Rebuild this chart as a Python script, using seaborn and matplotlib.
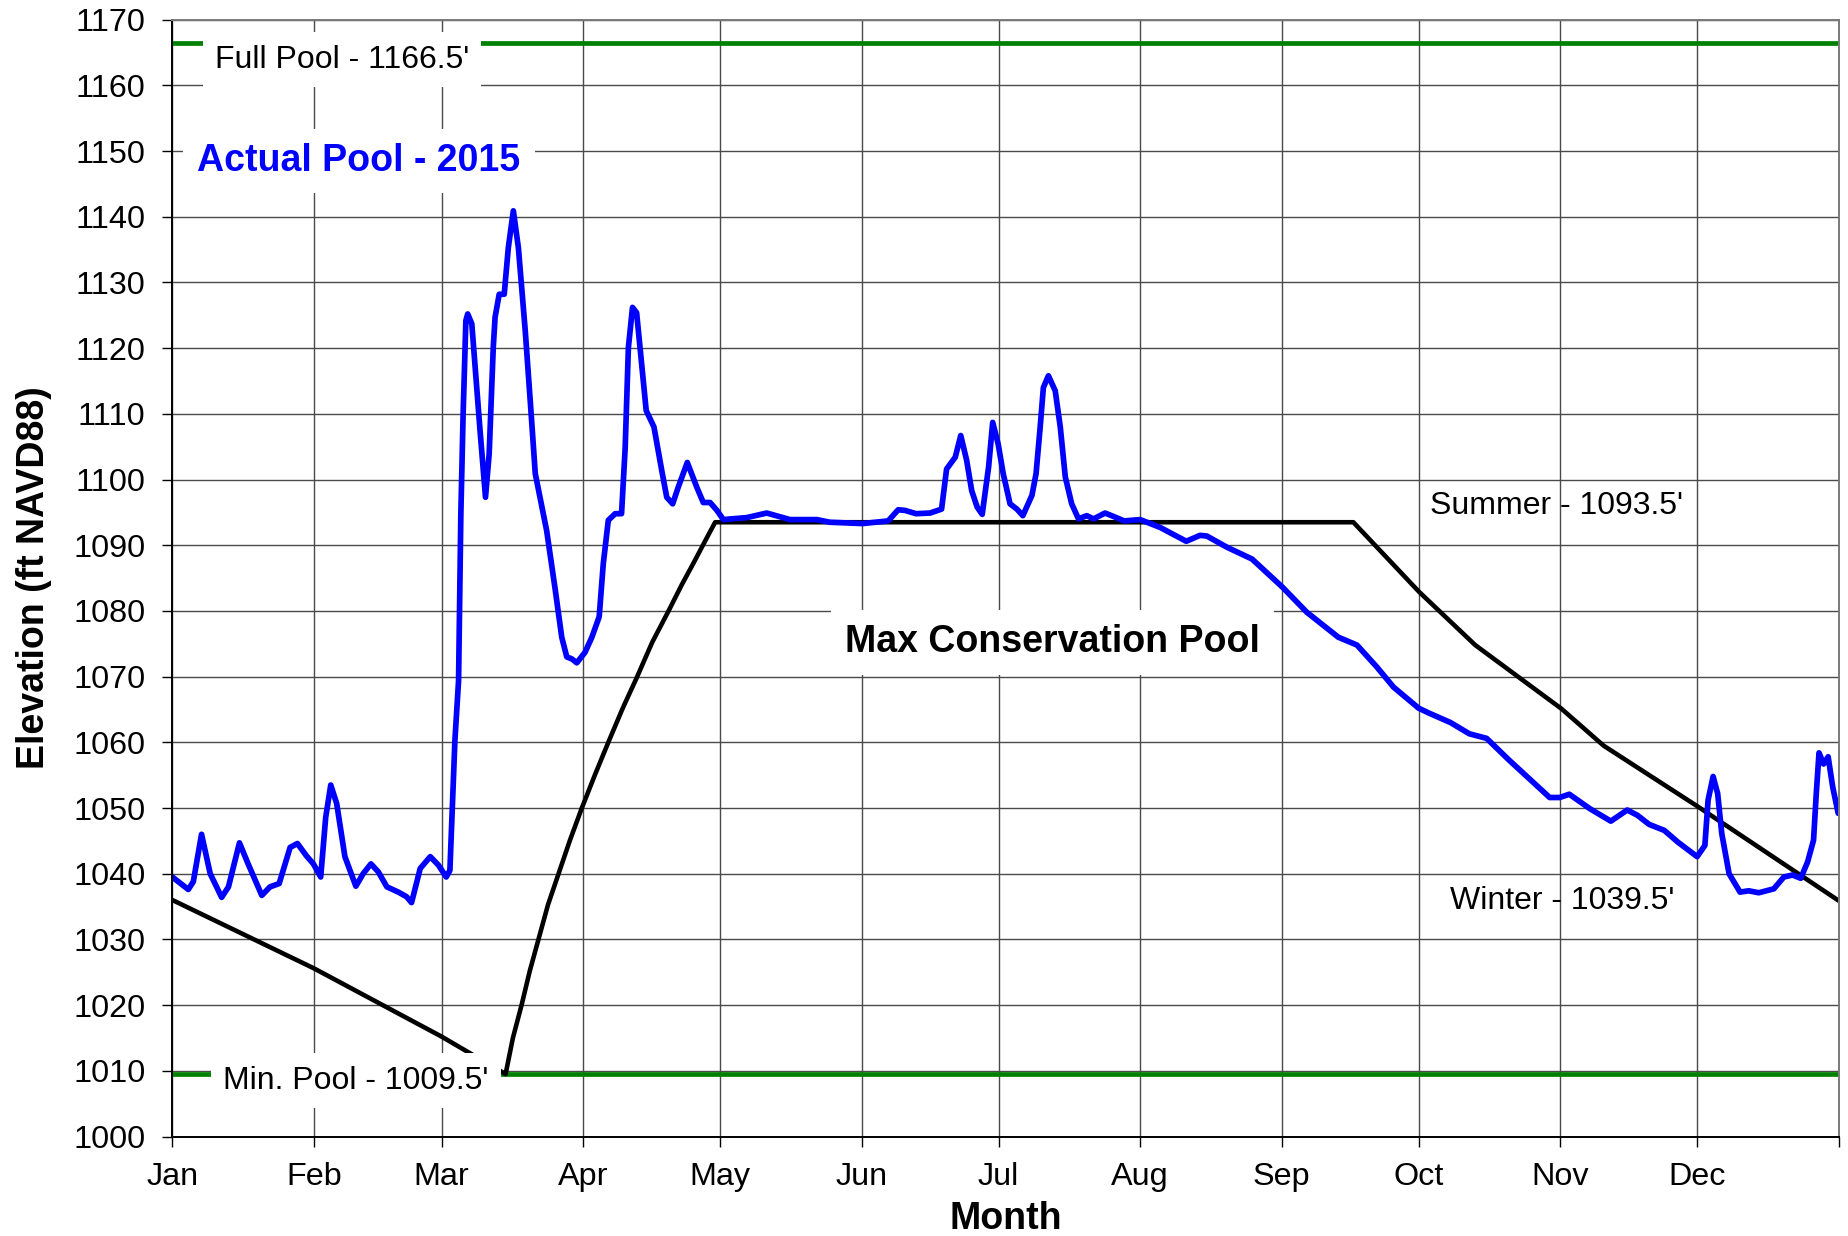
#!/usr/bin/env python3
#===============================================================================
# plot 2015 reservoir pool elevation against the rule curve
#===============================================================================

# Imports ======================================================================

import matplotlib
matplotlib.use('Agg')
import matplotlib.pyplot as plt
import pandas as pd
import seaborn as sns




# Data =========================================================================

month_labels = ['Jan', 'Feb', 'Mar', 'Apr', 'May', 'Jun',
                'Jul', 'Aug', 'Sep', 'Oct', 'Nov', 'Dec']
month_starts = [0, 31, 59, 90, 120, 151, 181, 212, 243, 273, 304, 334]

full_pool = 1166.5
min_pool = 1009.5

# actual pool elevation (day of year, ft)
actual_day = [
    0, 3.5, 4.6, 6.4, 8.3, 10.8, 12.3, 14.7, 16.6, 19.6, 21.4, 23.4, 25.8,
    27.4, 29.4, 30.9, 32.5, 33.6, 34.7, 36.0, 37.8, 40.2, 41.8, 43.5, 45.1,
    47.0, 49.5, 51.3, 52.4, 54.3, 56.5, 58.3, 60.0, 60.8, 61.9, 62.7, 63.2,
    63.7, 64.3, 64.7, 65.6, 67.4, 68.6, 69.4, 70.3, 70.7, 71.6, 72.7, 73.6,
    74.7, 75.8, 77.3, 78.6, 79.5, 82.0, 83.8, 85.3, 86.4, 87.5, 88.6, 90.4,
    91.9, 93.5, 94.4, 95.5, 97.0, 98.4, 99.2, 99.9, 100.8, 101.7, 102.8,
    103.8, 105.5, 107.2, 108.3, 109.6, 110.8, 112.8, 114.9, 116.3, 117.8,
    119.3, 120.7, 122.2, 125.8, 130.2, 135.3, 141.2, 144.0, 151.2, 156.8,
    159.0, 160.5, 162.9, 166.0, 168.5, 169.6, 171.5, 172.7, 174.0, 175.1,
    176.3, 177.4, 178.8, 179.7, 180.9, 182.0, 183.5, 185.0, 186.3, 188.3,
    189.2, 190.1, 190.8, 191.9, 193.4, 194.5, 195.6, 197.0, 198.5, 200.3,
    201.8, 204.3, 206.1, 208.5, 212.0, 216.4, 222.1, 225.1, 226.6, 231.0,
    236.5, 243.2, 248.5, 255.4, 259.5, 263.8, 267.5, 273.0, 275.1, 280.0,
    284.1, 287.9, 292.8, 301.7, 303.9, 306.0, 310.5, 315.1, 318.7, 320.9,
    323.5, 326.8, 329.8, 334.0, 335.7, 336.4, 337.5, 338.5, 339.4, 341.0,
    343.4, 345.3, 347.5, 350.8, 353.0, 354.9, 356.7, 358.2, 359.5, 360.1,
    360.7, 361.7, 362.7, 363.7, 364.9,
]
actual_elev = [
    1039.5, 1037.6, 1038.8, 1046.0, 1040.0, 1036.4, 1038.0, 1044.7, 1041.5,
    1036.7, 1038.0, 1038.5, 1044.0, 1044.6, 1042.7, 1041.5, 1039.5, 1048.6,
    1053.5, 1050.7, 1042.6, 1038.1, 1040.0, 1041.5, 1040.3, 1038.0, 1037.2,
    1036.5, 1035.6, 1040.8, 1042.6, 1041.3, 1039.5, 1040.5, 1060.3, 1069.4,
    1094.8, 1110.0, 1124.2, 1125.2, 1123.7, 1107.5, 1097.3, 1103.9, 1120.1,
    1124.7, 1128.2, 1128.2, 1135.3, 1140.9, 1135.3, 1122.7, 1110.0, 1100.9,
    1092.2, 1083.6, 1076.0, 1073.0, 1072.7, 1072.1, 1073.7, 1076.0, 1079.1,
    1087.2, 1093.8, 1094.8, 1094.8, 1104.9, 1120.1, 1126.2, 1125.4, 1117.6,
    1110.5, 1108.0, 1101.4, 1097.3, 1096.3, 1098.8, 1102.6, 1098.8, 1096.5,
    1096.5, 1095.3, 1093.9, 1094.0, 1094.2, 1094.9, 1093.9, 1093.9, 1093.5,
    1093.3, 1093.7, 1095.4, 1095.3, 1094.8, 1094.9, 1095.5, 1101.6, 1103.4,
    1106.7, 1102.9, 1098.3, 1095.8, 1094.7, 1101.9, 1108.7, 1105.4, 1100.9,
    1096.3, 1095.5, 1094.5, 1097.6, 1100.9, 1108.0, 1114.0, 1115.8, 1113.5,
    1108.0, 1100.4, 1096.3, 1094.0, 1094.5, 1094.0, 1094.9, 1094.4, 1093.7,
    1093.9, 1092.7, 1090.6, 1091.5, 1091.4, 1089.7, 1087.9, 1083.6, 1079.8,
    1076.0, 1074.8, 1071.5, 1068.4, 1065.2, 1064.5, 1063.0, 1061.3, 1060.6,
    1057.3, 1051.6, 1051.6, 1052.1, 1049.9, 1048.0, 1049.7, 1048.9, 1047.5,
    1046.6, 1044.8, 1042.6, 1044.3, 1051.2, 1054.8, 1052.2, 1046.1, 1040.0,
    1037.2, 1037.4, 1037.1, 1037.7, 1039.5, 1039.8, 1039.3, 1041.8, 1045.1,
    1052.2, 1058.4, 1056.7, 1057.8, 1053.2, 1049.2,
]

# max conservation pool (rule curve)
rule_day = [0, 31, 59, 73, 74.6, 76.5, 78.3, 80.2, 82.3, 84.6, 87.1, 89.7,
            92.6, 95.5, 98.6, 101.7, 105.1, 108.7, 111.6, 114.1, 116.6,
            118.9, 258.7, 273.1, 285.4, 304.3, 313.5, 334.2, 365]
rule_elev = [1036.0, 1025.6, 1015.2, 1009.5, 1015.0, 1020.0, 1025.2, 1030.0,
             1035.3, 1040.0, 1045.1, 1050.0, 1055.1, 1060.0, 1065.1, 1069.8,
             1075.2, 1080.0, 1084.0, 1087.2, 1090.5, 1093.5, 1093.5, 1082.9,
             1074.8, 1065.1, 1059.5, 1050.2, 1035.9]




# Functions ====================================================================

def label(ax, x, y, s, boxed=True, **kwargs):
    bbox = dict(boxstyle='square,pad=0.38', facecolor='white',
                edgecolor='none') if boxed else None
    ax.text(x, y, s, ha='center', va='baseline', bbox=bbox, zorder=5,
            **kwargs)


def main():
    sns.set_style('white')
    plt.rcParams['font.family'] = ['Liberation Sans', 'DejaVu Sans']
    plt.rcParams['text.color'] = 'black'
    plt.rcParams['axes.labelcolor'] = 'black'

    fig = plt.figure(figsize=(18.49, 12.36), dpi=100)
    ax = fig.add_axes([0.0932, 0.0805, 0.9012, 0.9036])

    round_line = dict(solid_joinstyle='round', solid_capstyle='round')
    pools = pd.DataFrame({'day': [0, 365], 'full': [full_pool] * 2,
                          'min': [min_pool] * 2})
    sns.lineplot(data=pools, x='day', y='full', color='#008000', lw=3.4,
                 ax=ax)
    sns.lineplot(data=pools, x='day', y='min', color='#008000', lw=3.4,
                 ax=ax)
    sns.lineplot(x=rule_day, y=rule_elev, color='black', lw=3.3, ax=ax,
                 **round_line)
    sns.lineplot(x=actual_day, y=actual_elev, color='#0000ff', lw=4.1,
                 ax=ax, **round_line)

    ax.set_xlim(0, 365)
    ax.set_ylim(1000, 1170)
    ax.set_xticks(month_starts + [365])
    ax.set_xticklabels(month_labels + [''])
    ax.set_yticks(range(1000, 1171, 10))

    ax.set_axisbelow(True)
    ax.grid(True, color='#4a4a4a', lw=1.0)
    for side, spine in ax.spines.items():
        spine.set_visible(True)
        spine.set_linewidth(1.4)
        spine.set_color('black' if side in ('left', 'bottom') else '#7a7a7a')

    ax.tick_params(axis='both', direction='out', length=7.2, width=1.0,
                   color='black', labelcolor='black', labelsize=23.3,
                   left=True, bottom=True, top=False, right=False)
    ax.tick_params(axis='x', pad=11.0)
    ax.tick_params(axis='y', pad=12.2)

    ax.set_xlabel('Month', fontsize=27, fontweight='bold')
    ax.set_ylabel('Elevation (ft NAVD88)', fontsize=27, fontweight='bold')
    ax.xaxis.set_label_coords(0.5, -0.058)
    ax.yaxis.set_label_coords(-0.072, 0.5)

    label(ax, 37.2, 1162.7, "Full Pool - 1166.5'", fontsize=23)
    label(ax, 40.2, 1007.3, "Min. Pool - 1009.5'", fontsize=23)
    label(ax, 40.9, 1147.0, 'Actual Pool - 2015', fontsize=27,
          fontweight='bold', color='#0000ff')
    label(ax, 192.8, 1073.7, 'Max Conservation Pool', fontsize=27,
          fontweight='bold')
    label(ax, 303.1, 1094.7, "Summer - 1093.5'", boxed=False, fontsize=23)
    label(ax, 304.5, 1034.6, "Winter - 1039.5'", boxed=False, fontsize=23)

    fig.savefig('out.png', dpi=100)




# Execute ======================================================================

if __name__ == '__main__':
    main()
